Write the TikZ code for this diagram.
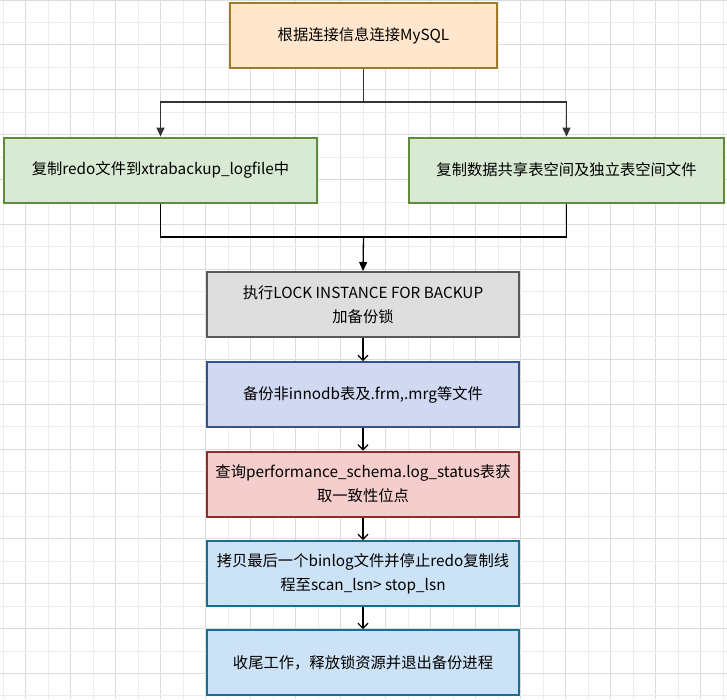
\documentclass[tikz,border=0pt]{standalone}
\usepackage{fontspec}
\newfontfamily\cjk{Noto Sans CJK SC}
\usetikzlibrary{arrows.meta}
\definecolor{gridDark}{HTML}{DCDCDC}
\definecolor{gridLight}{HTML}{EDEDED}
\definecolor{orangeFill}{HTML}{FFE6CC}
\definecolor{orangeLine}{HTML}{A07B2C}
\definecolor{greenFill}{HTML}{D8EAD3}
\definecolor{greenLine}{HTML}{5E8C3C}
\definecolor{grayFill}{HTML}{DEDEDE}
\definecolor{grayLine}{HTML}{595959}
\definecolor{lavFill}{HTML}{D0D9F1}
\definecolor{lavLine}{HTML}{33548A}
\definecolor{redFill}{HTML}{F5CDCC}
\definecolor{redLine}{HTML}{8E2E2C}
\definecolor{blueFill}{HTML}{CCE2F6}
\definecolor{blueLine}{HTML}{18708E}
\tikzset{
  stepbox/.style={draw,line width=2pt,inner sep=0pt,minimum width=312pt,minimum height=65pt,
    align=center,font=\cjk\fontsize{15.3}{24}\selectfont},
  split/.style={line width=1.3pt,draw=black!80,-{Triangle[width=8pt,length=9pt]}},
  flow/.style={line width=1.2pt,-{Straight Barb[width=10pt,length=5pt]}}
}
\begin{document}
\begin{tikzpicture}[x=1pt,y=-1pt]
        \useasboundingbox[fill=white] (0,0) rectangle (727,699);
        % background grid
        \foreach \gx in {0,...,16} {
            \draw[gridLight,line width=1pt] ({3+45*\gx},0) -- ({3+45*\gx},699);
            \draw[gridDark,line width=1pt] ({25.4+45*\gx},0) -- ({25.4+45*\gx},699);
        }
        \foreach \gy in {0,...,15} {
            \draw[gridDark,line width=1pt] (0,{44.9*\gy}) -- (727,{44.9*\gy});
            \draw[gridLight,line width=1pt] (0,{22.45+44.9*\gy}) -- (727,{22.45+44.9*\gy});
        }

        \node[stepbox,fill=orangeFill,draw=orangeLine,minimum width=267pt] (connect) at (363.5,35.5) {根据连接信息连接MySQL};
        \node[stepbox,fill=greenFill,draw=greenLine,minimum width=313pt] (copyredo) at (160.5,170) {复制redo文件到xtrabackup\_logfile中};
        \node[stepbox,fill=greenFill,draw=greenLine,minimum width=315pt] (copydata) at (566.5,170) {复制数据共享表空间及独立表空间文件};
        \node[stepbox,fill=grayFill,draw=grayLine] (lock) at (363,304.5) {执行LOCK INSTANCE FOR BACKUP\\加备份锁};
        \node[stepbox,fill=lavFill,draw=lavLine] (noninno) at (363,394.5) {备份非innodb表及.frm,.mrg等文件};
        \node[stepbox,fill=redFill,draw=redLine] (logstatus) at (363,484) {查询performance\_schema.log\_status表获\\取一致性位点};
        \node[stepbox,fill=blueFill,draw=blueLine] (binlog) at (363,573.5) {拷贝最后一个binlog文件并停止redo复制线\\程至scan\_lsn> stop\_lsn};
        \node[stepbox,fill=blueFill,draw=blueLine] (finish) at (363,662.5) {收尾工作，释放锁资源并退出备份进程};

        \coordinate (fork) at (363.5,102);
        \coordinate (join) at (363.5,237);

        \draw[split] (connect.south) -- (fork) -| (copyredo.north);
        \draw[split] (fork) -| (copydata.north);
        \draw[line width=1.3pt] (copyredo.south) |- (join) -| (copydata.south);
        \draw[split,draw=black] (join) -- (lock.north);

        \draw[flow] (lock) -- (noninno);
        \draw[flow] (noninno) -- (logstatus);
        \draw[flow] (logstatus) -- (binlog);
        \draw[flow] (binlog) -- (finish);
\end{tikzpicture}
\end{document}
